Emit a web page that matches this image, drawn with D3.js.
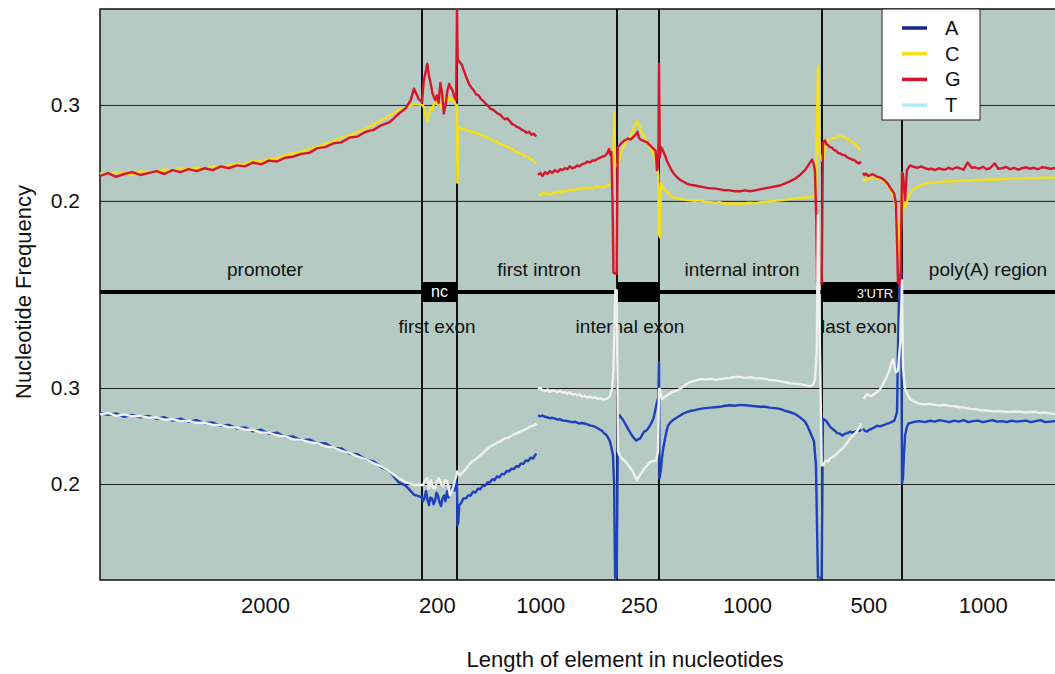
<!DOCTYPE html>
<html>
<head>
<meta charset="utf-8">
<script src="https://cdn.jsdelivr.net/npm/d3@7"></script>
<style>
body { margin: 0; background: #fff; }
text { font-family: "Liberation Sans", Arial, Helvetica, sans-serif; }
</style>
</head>
<body>
<div id="chart"></div>
<script>
// Nucleotide frequency along a gene model

// gene elements, their length in nucleotides, and the axis labels
var segmentNames = ["promoter", "first exon", "first intron", "internal exon", "internal intron", "last exon", "poly(A) region"];
var segmentLengths = [2000, 200, 1000, 250, 1000, 500, 1000];
var tickLabels = ["2000", "200", "1000", "250", "1000", "500", "1000"];
var tickPositions = [1025, 2085, 2720, 3330, 3990, 4740, 5455];
var yTicks = [0.2, 0.3];
var nucleotides = ["A", "C", "G", "T"];
var boxLabels = ["nc", "", "3'UTR"];

// values: [position in nt, frequency], null = gap in the line
var gValues = [
    // promoter
    [0,.226],[50,.229],[100,.225],[150,.228],[200,.230],[250,.227],[300,.229],[350,.231],[400,.228],[450,.232],
    [500,.230],[550,.233],[600,.231],[650,.234],[700,.232],[750,.236],[800,.234],[850,.237],[900,.236],[950,.240],
    [1000,.238],[1050,.242],[1100,.241],[1150,.245],[1200,.246],[1250,.249],[1300,.250],[1350,.255],[1400,.256],
    [1450,.260],[1500,.261],[1550,.266],[1600,.267],[1650,.272],[1700,.274],[1750,.279],[1800,.282],[1850,.290],
    [1900,.297],[1930,.305],[1950,.317],[1980,.306],[2000,.303],
    // first exon
    [2010,.325],[2025,.338],[2030,.343],[2040,.330],[2050,.322],[2060,.312],[2075,.305],[2085,.310],[2095,.302],
    [2105,.323],[2115,.312],[2125,.291],[2135,.300],[2145,.315],[2155,.322],[2165,.318],[2175,.315],[2185,.308],[2195,.305],
    // first intron, 5' end
    [2200,.400],[2204,.348],[2215,.345],[2230,.342],[2245,.335],[2260,.328],[2275,.322],[2290,.318],[2305,.315],
    [2320,.311],[2335,.310],[2350,.306],[2365,.304],[2380,.301],[2395,.299],[2410,.296],[2425,.295],[2440,.293],
    [2455,.291],[2470,.290],[2485,.287],[2500,.285],[2515,.286],[2530,.283],[2545,.280],[2560,.279],[2575,.277],
    [2590,.276],[2605,.274],[2620,.273],[2635,.271],[2650,.272],[2665,.269],[2680,.270],[2695,.267],
    null,
    // first intron, 3' end
    [2706,.227],[2720,.229],[2735,.226],[2750,.230],[2765,.228],[2780,.231],[2795,.229],[2812,.232],[2830,.230],
    [2845,.233],[2860,.232],[2875,.234],[2890,.233],[2905,.236],[2920,.234],[2937,.235],[2950,.237],[2965,.236],
    [2980,.238],[3000,.239],[3015,.241],[3030,.240],[3045,.242],[3062,.242],[3080,.244],[3095,.245],[3110,.246],
    [3125,.247],[3140,.250],[3150,.254],[3158,.248],[3165,.251],[3172,.200],[3178,.125],[3198,.124],
    // internal exon
    [3204,.256],[3215,.258],[3230,.261],[3245,.263],[3265,.265],[3280,.264],[3295,.266],[3305,.268],[3315,.270],
    [3322,.272],[3330,.266],[3340,.264],[3350,.263],[3365,.262],[3380,.261],[3395,.258],[3408,.256],[3420,.254],
    [3430,.252],[3438,.232],[3446,.240],[3450,.343],
    // internal intron
    [3455,.245],[3462,.256],[3470,.254],[3480,.250],[3490,.246],[3500,.241],[3515,.236],[3530,.231],[3548,.227],
    [3565,.224],[3579,.222],[3600,.220],[3620,.218],[3640,.217],[3670,.216],[3700,.215],[3730,.214],[3760,.213],
    [3790,.213],[3824,.212],[3855,.211],[3885,.211],[3915,.210],[3947,.210],[3980,.211],[4010,.210],[4040,.211],
    [4070,.212],[4100,.213],[4130,.214],[4160,.215],[4192,.216],[4220,.218],[4250,.220],[4284,.223],[4315,.227],
    [4346,.232],[4370,.238],[4389,.243],[4400,.238],[4407,.231],[4415,.180],[4420,.114],[4448,.114],
    // last exon, 5' end
    [4456,.261],[4469,.263],[4478,.259],[4487,.258],[4500,.256],[4512,.2555],[4525,.253],[4537,.2525],[4550,.250],
    [4562,.2495],[4578,.248],[4594,.2475],[4610,.245],[4625,.244],[4640,.243],[4656,.242],[4670,.240],[4681,.239],[4694,.241],
    null,
    // last exon, 3' end
    [4706,.229],[4715,.227],[4725,.2285],[4737,.226],[4750,.2265],[4765,.228],[4781,.2265],[4797,.225],[4812,.2245],
    [4828,.223],[4844,.221],[4860,.218],[4875,.214],[4887,.211],[4900,.208],[4912,.197],[4920,.150],[4925,.114],[4940,.112],
    // poly(A) region
    [4950,.230],[4956,.228],[4969,.2005],[4981,.232],[5000,.237],[5015,.236],[5031,.235],[5050,.2345],[5070,.236],
    [5094,.234],[5115,.233],[5135,.2335],[5156,.232],[5180,.234],[5200,.233],[5219,.2325],[5240,.2345],[5265,.233],
    [5290,.235],[5312,.234],[5335,.2325],[5360,.240],[5385,.2345],[5406,.235],[5430,.2335],[5455,.2355],[5480,.233],
    [5500,.234],[5530,.239],[5550,.2335],[5575,.234],[5600,.2355],[5625,.233],[5650,.2345],[5675,.2325],[5700,.234],
    [5725,.235],[5750,.2335],[5775,.2345],[5800,.233],[5825,.235],[5850,.2345],[5875,.2335],[5900,.234],[5950,.2335]
];

var cValues = [
    // promoter
    [0,.229],[50,.227],[100,.230],[150,.229],[200,.227],[250,.231],[300,.230],[350,.229],[400,.233],[450,.231],
    [500,.234],[550,.232],[600,.235],[650,.233],[700,.236],[750,.235],[800,.237],[850,.239],[900,.238],[950,.242],
    [1000,.241],[1050,.244],[1100,.245],[1150,.247],[1200,.250],[1250,.251],[1300,.255],[1350,.256],[1400,.260],
    [1450,.262],[1500,.266],[1550,.268],[1600,.272],[1650,.275],[1700,.280],[1750,.284],[1800,.289],[1850,.294],
    [1900,.297],[1950,.301],[2000,.300],
    // first exon
    [2010,.298],[2020,.290],[2030,.283],[2040,.292],[2050,.297],[2060,.295],[2070,.303],[2080,.306],[2090,.300],
    [2100,.302],[2110,.298],[2120,.304],[2130,.306],[2140,.303],[2150,.308],[2160,.305],[2170,.307],[2180,.304],[2195,.300],
    // first intron, 5' end
    [2200,.300],[2202,.219],[2206,.277],[2220,.276],[2235,.274],[2250,.275],[2265,.273],[2280,.273],[2295,.271],
    [2310,.272],[2325,.270],[2340,.270],[2355,.268],[2370,.268],[2385,.266],[2400,.265],[2415,.264],[2430,.262],
    [2445,.262],[2460,.260],[2475,.259],[2490,.258],[2505,.257],[2520,.256],[2535,.254],[2550,.254],[2565,.251],
    [2580,.251],[2595,.249],[2610,.249],[2625,.246],[2640,.246],[2655,.244],[2670,.243],[2685,.240],[2698,.240],
    null,
    // first intron, 3' end
    [2710,.208],[2725,.206],[2740,.209],[2755,.207],[2770,.208],[2790,.206],[2805,.209],[2820,.208],[2840,.210],
    [2860,.209],[2875,.211],[2890,.210],[2910,.212],[2925,.211],[2940,.212],[2960,.213],[2975,.212],[2990,.214],
    [3010,.213],[3030,.214],[3050,.213],[3070,.215],[3090,.214],[3110,.215],[3125,.214],[3140,.216],[3155,.217],
    [3165,.219],[3175,.222],[3182,.292],[3188,.240],[3200,.236],
    // internal exon
    [3206,.235],[3215,.243],[3224,.250],[3235,.255],[3248,.260],[3262,.264],[3277,.266],[3290,.271],[3301,.276],
    [3310,.279],[3319,.284],[3325,.280],[3337,.277],[3349,.270],[3367,.266],[3380,.261],[3396,.256],[3410,.251],
    [3426,.245],[3440,.236],[3446,.225],[3450,.165],
    // internal intron
    [3456,.162],[3462,.218],[3475,.214],[3490,.211],[3505,.208],[3525,.205],[3548,.203],[3580,.202],[3610,.201],
    [3640,.2005],[3670,.200],[3702,.2005],[3735,.199],[3765,.1985],[3795,.198],[3824,.1985],[3855,.197],[3885,.1975],
    [3915,.197],[3947,.197],[3980,.1975],[4010,.198],[4040,.1975],[4070,.1985],[4100,.199],[4130,.1995],[4160,.200],
    [4192,.2005],[4225,.201],[4255,.202],[4284,.2025],[4315,.203],[4346,.2035],[4376,.204],[4400,.2055],[4412,.207],
    [4425,.341],[4435,.250],[4450,.242],
    // last exon, 5' end
    [4456,.242],[4469,.2555],[4478,.261],[4487,.263],[4500,.264],[4512,.265],[4525,.2655],[4537,.266],[4550,.267],
    [4562,.268],[4578,.267],[4594,.266],[4610,.264],[4625,.263],[4640,.261],[4656,.260],[4670,.257],[4687,.2525],
    null,
    // last exon, 3' end
    [4706,.2235],[4715,.222],[4725,.2215],[4737,.2235],[4750,.2245],[4765,.2235],[4781,.2245],[4797,.2235],
    [4812,.2235],[4828,.221],[4844,.2195],[4860,.216],[4875,.213],[4887,.209],[4900,.2035],[4912,.193],[4925,.172],[4937,.125],
    // poly(A) region
    [4950,.221],[4956,.218],[4969,.193],[4981,.200],[5000,.2078],[5015,.211],[5031,.213],[5050,.215],[5070,.2165],
    [5094,.218],[5120,.2185],[5150,.219],[5180,.2195],[5210,.220],[5240,.2205],[5270,.2205],[5300,.221],[5330,.2215],
    [5360,.221],[5390,.2215],[5420,.222],[5450,.2215],[5480,.222],[5510,.2225],[5540,.222],[5570,.223],[5600,.2225],
    [5630,.223],[5660,.2235],[5690,.223],[5720,.2235],[5750,.224],[5780,.2235],[5810,.224],[5840,.2245],[5870,.224],
    [5900,.2245],[5950,.2245]
];

var aValues = [
    // promoter
    [0,.274],[50,.272],[100,.2735],[150,.270],[200,.272],[250,.2695],[300,.271],[350,.268],[400,.2695],[450,.266],
    [500,.268],[550,.265],[600,.2665],[650,.2635],[700,.264],[750,.2605],[800,.2615],[850,.258],[900,.259],[950,.255],
    [1000,.2565],[1050,.2525],[1100,.2535],[1150,.249],[1200,.2495],[1250,.2455],[1300,.2465],[1350,.242],[1400,.2425],
    [1450,.2375],[1500,.237],[1550,.2315],[1600,.231],[1650,.2255],[1700,.2235],[1750,.217],[1800,.213],[1850,.2025],
    [1900,.198],[1950,.189],[2000,.186],
    // first exon
    [2006,.182],[2015,.186],[2023,.1925],[2032,.183],[2040,.178],[2048,.186],[2057,.185],[2066,.179],[2074,.182],
    [2083,.191],[2091,.188],[2100,.181],[2109,.177],[2117,.185],[2126,.188],[2134,.182],[2143,.1925],[2151,.186],
    [2160,.188],[2168,.195],[2177,.1985],[2186,.193],[2194,.2028],[2199,.195],
    // first intron, 5' end
    [2200,.200],[2203,.157],[2208,.160],[2214,.178],[2225,.180],[2240,.185],[2255,.185],[2270,.188],[2285,.188],
    [2300,.192],[2315,.191],[2330,.195],[2345,.1945],[2360,.198],[2375,.198],[2390,.2015],[2405,.2015],[2420,.205],
    [2435,.204],[2450,.208],[2465,.207],[2480,.2105],[2495,.210],[2510,.2135],[2525,.213],[2540,.216],[2555,.2155],
    [2570,.2185],[2585,.218],[2600,.2215],[2615,.221],[2630,.2245],[2645,.224],[2660,.2275],[2675,.2265],[2690,.2305],[2698,.231],
    null,
    // first intron, 3' end
    [2706,.2715],[2720,.2705],[2735,.2712],[2750,.270],[2765,.2695],[2780,.2685],[2795,.269],[2812,.268],[2830,.267],
    [2845,.2675],[2860,.266],[2875,.266],[2890,.2655],[2905,.265],[2920,.2645],[2937,.2649],[2950,.264],[2965,.263],
    [2980,.2635],[3000,.2628],[3015,.262],[3030,.261],[3045,.2605],[3062,.2597],[3080,.258],[3095,.2565],[3106,.2555],
    [3120,.253],[3137,.2504],[3148,.247],[3156,.2442],[3165,.238],[3175,.2297],[3182,.200],[3188,.1025],[3198,.1025],
    // internal exon
    [3206,.268],[3212,.272],[3218,.271],[3230,.268],[3242,.2649],[3254,.261],[3265,.2576],[3277,.254],[3289,.2504],
    [3301,.248],[3313,.2452],[3325,.2465],[3337,.2473],[3349,.251],[3361,.2545],[3373,.2555],[3385,.2576],[3397,.261],
    [3408,.2649],[3418,.269],[3426,.2752],[3438,.2855],[3446,.290],[3450,.3266],
    // internal intron
    [3453,.206],[3462,.215],[3468,.2266],[3477,.238],[3487,.2473],[3496,.255],[3505,.2607],[3517,.2635],[3530,.2659],
    [3548,.268],[3567,.270],[3590,.2725],[3615,.2745],[3640,.276],[3670,.277],[3702,.2783],[3735,.279],[3765,.2795],
    [3795,.280],[3824,.2804],[3855,.2815],[3885,.282],[3915,.2815],[3947,.2824],[3980,.282],[4010,.2815],[4040,.281],
    [4070,.2804],[4100,.2805],[4130,.2795],[4160,.279],[4192,.2783],[4220,.2765],[4250,.275],[4284,.273],[4315,.2695],
    [4346,.2649],[4362,.260],[4376,.2545],[4390,.249],[4401,.2442],[4413,.2194],[4420,.150],[4425,.1025],[4448,.1025],
    // last exon, 5' end
    [4456,.268],[4465,.267],[4475,.266],[4487,.263],[4500,.2597],[4515,.2575],[4531,.2555],[4545,.253],[4562,.2524],
    [4578,.2505],[4594,.2524],[4610,.253],[4625,.2545],[4640,.2535],[4656,.2545],[4670,.2555],[4687,.2555],[4695,.257],
    null,
    // last exon, 3' end
    [4706,.2576],[4718,.2555],[4731,.2545],[4745,.2565],[4762,.2576],[4778,.259],[4794,.2607],[4810,.260],[4825,.2607],
    [4840,.2615],[4856,.2628],[4872,.2635],[4887,.2649],[4900,.2655],[4906,.268],[4919,.275],[4925,.3435],[4935,.426],[4945,.420],
    // poly(A) region
    [4950,.2007],[4956,.206],[4962,.230],[4969,.2504],[4980,.259],[4990,.2628],[5010,.264],[5031,.2649],[5060,.2655],
    [5090,.2645],[5125,.2659],[5155,.265],[5185,.2665],[5215,.2655],[5245,.2645],[5275,.266],[5305,.265],[5335,.2665],
    [5365,.2645],[5395,.2655],[5425,.266],[5455,.2645],[5485,.2655],[5515,.2665],[5545,.265],[5575,.2655],[5605,.2645],
    [5635,.266],[5665,.265],[5695,.2655],[5725,.266],[5755,.2645],[5785,.2655],[5815,.2665],[5845,.2645],[5875,.265],
    [5905,.2655],[5950,.2645]
];

var tValues = [
    // promoter
    [0,.2725],[50,.274],[100,.271],[150,.2725],[200,.2705],[250,.271],[300,.269],[350,.2695],[400,.267],[450,.2675],
    [500,.2655],[550,.266],[600,.2635],[650,.264],[700,.2615],[750,.2615],[800,.259],[850,.259],[900,.2565],[950,.2565],
    [1000,.2535],[1050,.2535],[1100,.2505],[1150,.2495],[1200,.2465],[1250,.246],[1300,.2435],[1350,.2425],[1400,.239],
    [1450,.238],[1500,.2345],[1550,.2325],[1600,.2285],[1650,.226],[1700,.2215],[1750,.218],[1800,.213],[1850,.2065],
    [1900,.202],[1950,.199],[2000,.199],
    // first exon
    [2006,.199],[2015,.203],[2029,.206],[2040,.1956],[2051,.204],[2063,.196],[2074,.1956],[2086,.203],[2097,.206],
    [2109,.200],[2120,.1976],[2131,.204],[2143,.2028],[2155,.195],[2160,.188],[2170,.192],[2177,.1956],[2190,.205],[2197,.209],
    // first intron, 5' end
    [2200,.213],[2210,.211],[2220,.209],[2235,.212],[2250,.2145],[2265,.218],[2280,.221],[2295,.2235],[2310,.225],
    [2325,.227],[2345,.2297],[2360,.232],[2375,.2345],[2390,.2365],[2406,.239],[2420,.240],[2435,.2415],[2450,.243],
    [2469,.2442],[2485,.246],[2500,.2475],[2515,.248],[2531,.2493],[2545,.2505],[2560,.252],[2575,.253],[2594,.2545],
    [2610,.2555],[2625,.257],[2640,.258],[2656,.2597],[2670,.2605],[2685,.2615],[2698,.263],
    null,
    // first intron, 3' end
    [2706,.299],[2720,.300],[2735,.2975],[2750,.297],[2765,.2985],[2780,.296],[2795,.2975],[2812,.297],[2830,.2955],
    [2845,.297],[2860,.295],[2875,.2957],[2890,.294],[2905,.2955],[2920,.293],[2937,.2937],[2950,.2925],[2965,.2935],
    [2980,.291],[3000,.2917],[3015,.290],[3030,.291],[3045,.2895],[3062,.2906],[3080,.2885],[3095,.2895],[3110,.288],
    [3125,.2886],[3140,.289],[3156,.2917],[3170,.300],[3177,.3165],[3185,.370],[3190,.402],[3198,.402],
    // internal exon
    [3206,.2338],[3218,.229],[3230,.2266],[3245,.224],[3260,.2214],[3275,.218],[3289,.2142],[3305,.209],[3319,.204],
    [3331,.208],[3343,.211],[3358,.215],[3373,.2183],[3388,.221],[3402,.2235],[3418,.224],[3432,.2245],[3444,.2338],[3450,.299],
    // internal intron
    [3456,.299],[3468,.2886],[3480,.290],[3493,.2917],[3510,.2935],[3530,.2957],[3555,.297],[3579,.299],[3610,.303],
    [3640,.3062],[3670,.3075],[3702,.3093],[3735,.309],[3765,.3095],[3795,.3085],[3824,.3093],[3855,.310],[3885,.3105],
    [3915,.3115],[3947,.3114],[3980,.3105],[4010,.3112],[4040,.310],[4070,.310],[4100,.3095],[4130,.3085],[4160,.308],
    [4192,.3072],[4225,.306],[4255,.305],[4284,.3045],[4315,.3041],[4346,.303],[4376,.302],[4395,.3035],[4407,.3093],
    [4418,.340],[4425,.480],[4432,.400],[4448,.2194],
    // last exon, 5' end
    [4456,.2194],[4465,.2225],[4475,.2245],[4487,.2235],[4500,.2266],[4515,.228],[4531,.2297],[4545,.232],[4562,.2349],
    [4578,.237],[4594,.240],[4610,.2435],[4625,.2473],[4640,.250],[4656,.2524],[4670,.2555],[4687,.2597],[4695,.263],
    null,
    // last exon, 3' end
    [4712,.2886],[4722,.292],[4731,.2937],[4745,.292],[4762,.2917],[4778,.294],[4794,.2958],[4810,.298],[4825,.302],
    [4840,.307],[4856,.3124],[4870,.318],[4881,.3248],[4894,.330],[4903,.322],[4912,.3165],[4925,.318],[4940,.350],
    // poly(A) region
    [4950,.412],[4956,.3228],[4962,.310],[4969,.299],[4985,.293],[5000,.2886],[5030,.2855],[5062,.2835],[5094,.283],
    [5125,.2835],[5156,.2824],[5190,.282],[5220,.2825],[5250,.2814],[5280,.281],[5310,.280],[5340,.2795],[5375,.2783],
    [5410,.278],[5440,.277],[5470,.2765],[5500,.2762],[5530,.2755],[5560,.276],[5590,.2752],[5620,.275],[5650,.2755],
    [5687,.2752],[5720,.2745],[5750,.275],[5781,.2752],[5810,.274],[5840,.2745],[5870,.2735],[5906,.273],[5950,.2725]
];

// ---- layout ----
var svgWidth = 1055;
var svgHeight = 674;
var plotLeft = 100, plotRight = 1055, plotTop = 9, plotMid = 292, plotBottom = 580;
// pixel width of each element on the drawing (not proportional to nt)
var segmentPx = [322, 35, 160, 42, 163, 80, 160];

var lineColors = { A: "#1e40bd", C: "#f3df1b", G: "#d5172e", T: "#eef1ec" };
var legendColors = { A: "#14278a", C: "#f3df1b", G: "#d5172e", T: "#b2edf5" };
var fontFamily = '"Liberation Sans", Arial, Helvetica, sans-serif';

var svg = d3.select("#chart")
    .append("svg")
    .attr("width", svgWidth)
    .attr("height", svgHeight);

// piecewise scale: element boundaries in nt -> pixels
var ntBounds = [0];
segmentLengths.forEach(function(len, i) { ntBounds.push(ntBounds[i] + len); });
var pxBounds = [plotLeft];
segmentPx.forEach(function(w, i) { pxBounds.push(pxBounds[i] + w); });

var xScale = d3.scaleLinear().domain(ntBounds).range(pxBounds);
var yTopScale = d3.scaleLinear().domain([0.105, 0.4]).range([plotMid, plotTop]);
var yBottomScale = d3.scaleLinear().domain([0.1, 0.4]).range([plotBottom, plotMid]);

// background
svg.append("rect")
    .attr("x", plotLeft)
    .attr("y", plotTop)
    .attr("width", plotRight - plotLeft)
    .attr("height", plotBottom - plotTop)
    .attr("fill", "#b5cac2");

// y axes with grid lines, one per panel
[yTopScale, yBottomScale].forEach(function(scale) {
    svg.append("g")
        .attr("transform", `translate(${plotLeft}, 0)`)
        .call(d3.axisLeft(scale)
            .tickValues(yTicks)
            .tickSize(-(plotRight - plotLeft))
            .tickPadding(20)
            .tickFormat(d3.format(".1f")))
        .call(function(g) { g.select(".domain").remove(); })
        .call(function(g) {
            g.selectAll("line").attr("stroke", "#1a1a1a").attr("stroke-width", 1);
            g.selectAll("text").attr("font-size", 21).attr("fill", "#111").attr("font-family", fontFamily);
        });
});

// x axis: element lengths
svg.append("g")
    .attr("transform", `translate(0, ${plotBottom})`)
    .call(d3.axisBottom(xScale)
        .tickValues(tickPositions)
        .tickFormat(function(d, i) { return tickLabels[i]; })
        .tickSize(0)
        .tickPadding(17))
    .call(function(g) { g.select(".domain").remove(); })
    .call(function(g) {
        g.selectAll("text").attr("font-size", 22).attr("fill", "#111").attr("font-family", fontFamily);
    });

// axis titles
svg.append("text")
    .attr("transform", "translate(31, 292) rotate(-90)")
    .attr("text-anchor", "middle")
    .attr("font-size", 22)
    .attr("fill", "#111")
    .text("Nucleotide Frequency");

svg.append("text")
    .attr("x", 625)
    .attr("y", 667)
    .attr("text-anchor", "middle")
    .attr("font-size", 22)
    .attr("fill", "#111")
    .text("Length of element in nucleotides");

// element names: introns/flanks above the gene line, exons below it
function segCenter(i) { return (pxBounds[i] + pxBounds[i + 1]) / 2; }
var labelShift = [4, -2.5, 2, -8, 1.5, -3, 6];
segmentNames.forEach(function(name, i) {
    var isExon = name.indexOf("exon") >= 0;
    svg.append("text")
        .attr("x", segCenter(i) + labelShift[i])
        .attr("y", isExon ? 333 : 276)
        .attr("text-anchor", "middle")
        .attr("font-size", 19)
        .attr("fill", "#111")
        .text(name);
});

// element boundaries
svg.selectAll(".boundary")
    .data(ntBounds.slice(1, ntBounds.length - 1))
    .enter()
    .append("line")
    .attr("class", "boundary")
    .attr("x1", function(d) { return xScale(d); })
    .attr("x2", function(d) { return xScale(d); })
    .attr("y1", plotTop)
    .attr("y2", plotBottom)
    .attr("stroke", "#111")
    .attr("stroke-width", 2);

// gene line with exon boxes
svg.append("line")
    .attr("x1", plotLeft)
    .attr("x2", plotRight)
    .attr("y1", plotMid)
    .attr("y2", plotMid)
    .attr("stroke", "#000")
    .attr("stroke-width", 4);

var exonIdx = [1, 3, 5];
exonIdx.forEach(function(si, k) {
    svg.append("rect")
        .attr("x", pxBounds[si])
        .attr("y", 282)
        .attr("width", pxBounds[si + 1] - pxBounds[si])
        .attr("height", 20)
        .attr("fill", "#000");
    if (boxLabels[k]) {
        svg.append("text")
            .attr("x", k === 2 ? segCenter(si) + 13 : segCenter(si))
            .attr("y", k === 2 ? 298 : 297)
            .attr("text-anchor", "middle")
            .attr("font-size", k === 2 ? 13 : 16)
            .attr("fill", "#fff")
            .text(boxLabels[k]);
    }
});

// plot frame (left, top, bottom)
svg.append("path")
    .attr("d", `M${plotRight},${plotTop}H${plotLeft}V${plotBottom}H${plotRight}`)
    .attr("fill", "none")
    .attr("stroke", "#111")
    .attr("stroke-width", 1.5);

// curves
svg.append("clipPath")
    .attr("id", "plotClip")
    .append("rect")
    .attr("x", plotLeft)
    .attr("y", plotTop)
    .attr("width", plotRight - plotLeft)
    .attr("height", plotBottom - plotTop);

var seriesList = [
    { name: "A", values: aValues, y: yBottomScale },
    { name: "C", values: cValues, y: yTopScale },
    { name: "G", values: gValues, y: yTopScale },
    { name: "T", values: tValues, y: yBottomScale }
];

var curves = svg.append("g").attr("clip-path", "url(#plotClip)");
seriesList.forEach(function(s) {
    var line = d3.line()
        .defined(function(d) { return d !== null; })
        .x(function(d) { return xScale(d[0]); })
        .y(function(d) { return s.y(d[1]); });
    curves.append("path")
        .datum(s.values)
        .attr("d", line)
        .attr("fill", "none")
        .attr("stroke", lineColors[s.name])
        .attr("stroke-width", 2.4)
        .attr("stroke-linejoin", "round");
});

// legend
var legend = svg.append("g").attr("transform", "translate(882, 9)");
legend.append("rect")
    .attr("width", 98)
    .attr("height", 111)
    .attr("fill", "#fff")
    .attr("stroke", "#222")
    .attr("stroke-width", 1);

nucleotides.forEach(function(n, i) {
    var yPos = 19 + i * 25.7;
    legend.append("line")
        .attr("x1", 20)
        .attr("x2", 45)
        .attr("y1", yPos)
        .attr("y2", yPos)
        .attr("stroke", legendColors[n])
        .attr("stroke-width", 3.5);
    legend.append("text")
        .attr("x", 63)
        .attr("y", yPos + 7)
        .attr("font-size", 20)
        .attr("fill", "#111")
        .text(n);
});
</script>
</body>
</html>
